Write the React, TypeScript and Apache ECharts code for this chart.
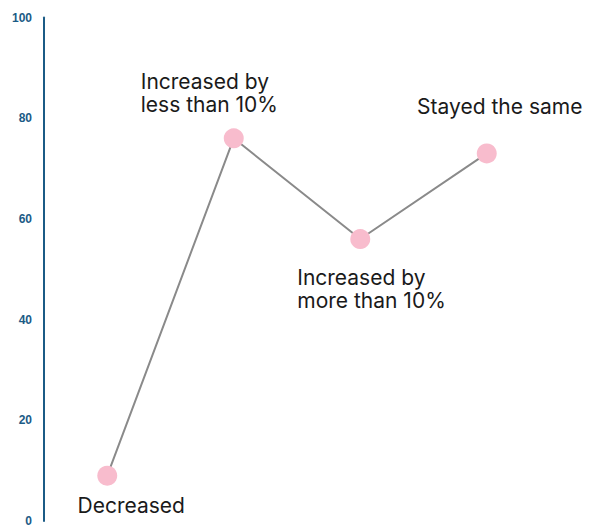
import React, { useEffect, useRef } from "react";
import * as echarts from "echarts";

// Answer categories and their shares (percent)
const categories = [
  "Decreased",
  "Increased by\nless than 10%",
  "Increased by\nmore than 10%",
  "Stayed the same",
];
const values = [9, 76, 56, 73];
const yTicks = [0, 20, 40, 60, 80, 100];

// Per-point label placement (offset from marker centre)
const labelPlacement: { align: "left" | "center"; offset: [number, number] }[] = [
  { align: "center", offset: [24, 30] },
  { align: "left", offset: [-93, -45] },
  { align: "left", offset: [-63, 50] },
  { align: "center", offset: [13, -47] },
];

const AXIS_BLUE = "#1b5b86";

export default function App() {
  const ref = useRef<HTMLDivElement>(null);

  useEffect(() => {
    if (!ref.current) return;
    const chart = echarts.init(ref.current, undefined, { renderer: "svg" });
    chart.setOption({
      animation: false,
      backgroundColor: "#ffffff",
      grid: { left: 44, right: 40, top: 17.5, bottom: 1.3, containLabel: false },
      xAxis: {
        type: "category",
        data: categories,
        boundaryGap: true,
        axisLine: { show: false },
        axisTick: { show: false },
        axisLabel: { show: false },
        splitLine: { show: false },
      },
      yAxis: {
        type: "value",
        min: yTicks[0],
        max: yTicks[yTicks.length - 1],
        interval: 20,
        axisLine: { show: true, lineStyle: { color: AXIS_BLUE, width: 2 } },
        axisTick: { show: false },
        splitLine: { show: false },
        axisLabel: {
          color: AXIS_BLUE,
          fontWeight: "bold",
          fontSize: 12,
          fontFamily: "Liberation Sans, Arial, sans-serif",
          margin: 12,
        },
      },
      series: [
        {
          type: "line",
          data: values.map((v, i) => ({
            value: v,
            label: {
              show: true,
              position: "inside",
              formatter: categories[i],
              align: labelPlacement[i].align,
              verticalAlign: "middle",
              offset: labelPlacement[i].offset,
            },
          })),
          symbol: "circle",
          symbolSize: 20,
          itemStyle: { color: "#f8bccd" },
          lineStyle: { color: "#8a8a8a", width: 2 },
          z: 2,
          label: {
            color: "#1a1a1a",
            fontSize: 21,
            lineHeight: 23,
            fontFamily: "Inter, 'Open Sans', sans-serif",
          },
        },
      ],
    });
    return () => chart.dispose();
  }, []);

  return (
    <div
      ref={ref}
      style={{ position: "fixed", left: 0, top: 0, width: 590, height: 527 }}
    />
  );
}
